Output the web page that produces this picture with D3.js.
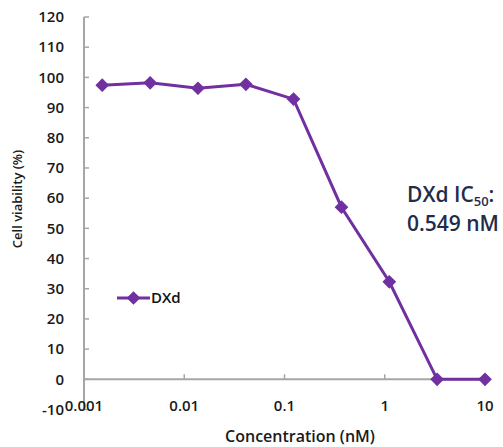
<!DOCTYPE html>
<html>
<head>
<meta charset="utf-8">
<script src="https://cdn.jsdelivr.net/npm/d3@7"></script>
<style>
body { margin: 0; background: #fff; }
text { font-family: "Open Sans", "Noto Sans", sans-serif; }
</style>
</head>
<body>
<script>
// concentrations (nM) and viability (%)
const concentrations = [0.00152, 0.00457, 0.0137, 0.0412, 0.123, 0.370, 1.11, 3.33, 10];
const viability = [97.4, 98.2, 96.4, 97.7, 92.8, 57.0, 32.3, 0, 0];
const xTicks = [0.001, 0.01, 0.1, 1, 10];
const xTickLabels = ["0.001", "0.01", "0.1", "1", "10"];
const yTicks = [-10, 0, 10, 20, 30, 40, 50, 60, 70, 80, 90, 100, 110, 120];
const seriesName = "DXd";

const W = 503, H = 447;
const purple = "#7030a0";
const axisCol = "#a6a6a6";

const svg = d3.select("body").append("svg")
    .attr("width", W)
    .attr("height", H);

const x = d3.scaleLog().domain([0.001, 10]).range([84, 485]);
const y = d3.scaleLinear().domain([-10, 120]).range([409.5, 17]);

// y axis
const gy = svg.append("g").attr("transform", "translate(" + x(0.001) + ",0)");
gy.append("line")
    .attr("y1", y(120)).attr("y2", y(-10))
    .attr("stroke", axisCol).attr("stroke-width", 2);
yTicks.forEach(t => {
    gy.append("line")
        .attr("x1", 0).attr("x2", 5)
        .attr("y1", y(t)).attr("y2", y(t))
        .attr("stroke", axisCol).attr("stroke-width", 1.5);
    gy.append("text")
        .attr("x", -20).attr("y", y(t))
        .attr("dy", "0.35em")
        .attr("text-anchor", "end")
        .attr("font-size", 15)
        .attr("font-weight", 600)
        .attr("fill", "#1a1a1a")
        .text(t);
});

// x axis at y = 0
const gx = svg.append("g").attr("transform", "translate(0," + y(0) + ")");
gx.append("line")
    .attr("x1", x(0.001)).attr("x2", x(10))
    .attr("stroke", axisCol).attr("stroke-width", 2);
xTicks.forEach((t, i) => {
    gx.append("line")
        .attr("x1", x(t)).attr("x2", x(t))
        .attr("y1", 0).attr("y2", -5)
        .attr("stroke", axisCol).attr("stroke-width", 1.5);
    gx.append("text")
        .attr("x", x(t)).attr("y", 32)
        .attr("text-anchor", "middle")
        .attr("font-size", 15)
        .attr("font-weight", 600)
        .attr("fill", "#1a1a1a")
        .text(xTickLabels[i]);
});

// axis titles
svg.append("text")
    .attr("x", 300).attr("y", 442)
    .attr("text-anchor", "middle")
    .attr("font-size", 16)
    .attr("font-weight", 600)
    .attr("fill", "#1a1a1a")
    .text("Concentration (nM)");

svg.append("text")
    .attr("transform", "translate(22,199) rotate(-90)")
    .attr("text-anchor", "middle")
    .attr("font-size", 13)
    .attr("font-weight", 600)
    .attr("fill", "#1a1a1a")
    .text("Cell viability (%)");

// series
const pts = concentrations.map((c, i) => ({ c: c, v: viability[i] }));
const diamond = d3.symbol().type(d3.symbolDiamond2).size(120);

svg.append("path")
    .datum(pts)
    .attr("fill", "none")
    .attr("stroke", purple)
    .attr("stroke-width", 3)
    .attr("d", d3.line().x(d => x(d.c)).y(d => y(d.v)));

svg.selectAll(".pt")
    .data(pts)
    .enter().append("path")
    .attr("class", "pt")
    .attr("transform", d => "translate(" + x(d.c) + "," + y(d.v) + ")")
    .attr("d", diamond)
    .attr("fill", purple);

// legend
const lg = svg.append("g").attr("transform", "translate(117,298)");
lg.append("line").attr("x1", 0).attr("x2", 33)
    .attr("stroke", purple).attr("stroke-width", 3);
lg.append("path").attr("transform", "translate(16.5,0)")
    .attr("d", diamond).attr("fill", purple);
lg.append("text")
    .attr("x", 34).attr("dy", "0.35em")
    .attr("font-size", 15)
    .attr("font-weight", 600)
    .attr("fill", "#111")
    .text(seriesName);

// IC50 annotation (one text, two lines)
const ann = svg.append("text")
    .attr("x", 407).attr("y", 202)
    .attr("font-size", 21)
    .attr("font-weight", 600)
    .attr("fill", "#1f2d4a");
ann.append("tspan").text("DXd IC");
ann.append("tspan").attr("font-size", 13).attr("dy", 4).text("50");
ann.append("tspan").attr("dy", -4).text(":");
ann.append("tspan").attr("x", 407).attr("dy", 29).text("0.549 nM");
</script>
</body>
</html>
